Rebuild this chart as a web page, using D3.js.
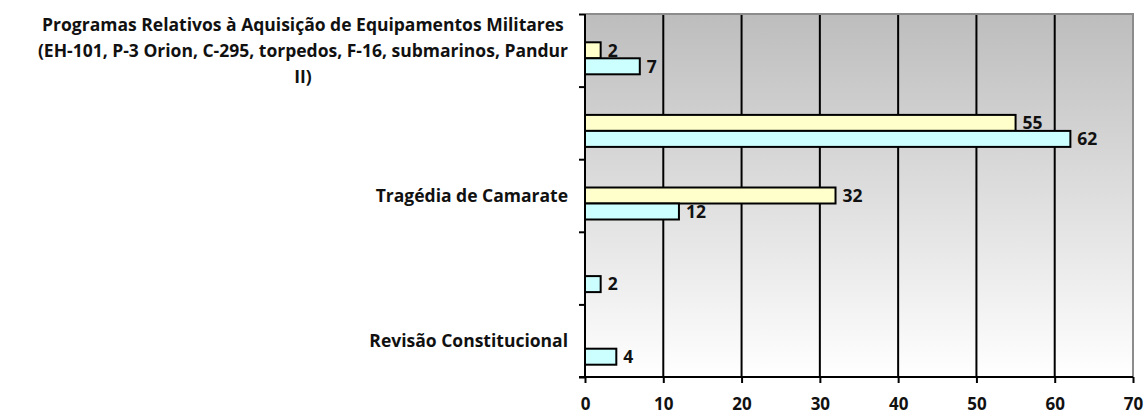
<!DOCTYPE html>
<html>
<head>
<meta charset="utf-8">
<script src="https://cdn.jsdelivr.net/npm/d3@7"></script>
<style>
  body { margin: 0; background: #fff; }
  svg text { font-family: "Open Sans", sans-serif; font-weight: bold; fill: #111; }
</style>
</head>
<body>
<div id="d3-container"></div>
<script>
/**
 * DATA
 * */
const categories = [
  "Programas Relativos à Aquisição de Equipamentos Militares\n(EH-101, P-3 Orion, C-295, torpedos, F-16, submarinos, Pandur\nII)",
  "",
  "Tragédia de Camarate",
  "",
  "Revisão Constitucional"
];
const seriesYellow = [2, 55, 32, null, null];
const seriesCyan = [7, 62, 12, 2, 4];
const xTicks = [0, 10, 20, 30, 40, 50, 60, 70];

/**
 * CONSTANTS
 * */
const width = 1147,
  height = 416,
  margin = { top: 14, bottom: 39, left: 585, right: 14 },
  fontSize = 17.5,
  tickFontSize = 17,
  barH = 16,
  barShift = 8; // bars sit a little below the band centre in the original

const svg = d3.select("#d3-container")
  .append("svg")
  .attr("width", width)
  .attr("height", height);

// background gradient of the plot area
const grad = svg.append("defs").append("linearGradient")
  .attr("id", "plotbg")
  .attr("x1", 0).attr("y1", 0).attr("x2", 0).attr("y2", 1);
grad.append("stop").attr("offset", "0%").attr("stop-color", "#bdbdbd");
grad.append("stop").attr("offset", "100%").attr("stop-color", "#ffffff");

const x = d3.scaleLinear()
  .domain([0, 70])
  .range([margin.left, width - margin.right]);

const y = d3.scaleBand()
  .domain(d3.range(categories.length))
  .range([margin.top, height - margin.bottom]);

// for the tick marks between categories
const yEdge = d3.scaleLinear()
  .domain([0, categories.length])
  .range([margin.top, height - margin.bottom]);

const sub = d3.scaleBand()
  .domain(["yellow", "cyan"])
  .range([0, barH * 2]);

// plot area
svg.append("rect")
  .attr("x", x(0)).attr("y", margin.top)
  .attr("width", x(70) - x(0))
  .attr("height", height - margin.bottom - margin.top)
  .attr("fill", "url(#plotbg)");

// grid lines
svg.selectAll("line.grid")
  .data(xTicks.filter(d => d > 0 && d < 70))
  .join("line")
  .attr("class", "grid")
  .attr("x1", d => x(d)).attr("x2", d => x(d))
  .attr("y1", margin.top).attr("y2", height - margin.bottom)
  .attr("stroke", "#000")
  .attr("stroke-width", 2);

// top + right border in grey
svg.append("path")
  .attr("d", `M${x(0)},${margin.top}H${x(70)}V${height - margin.bottom}`)
  .attr("fill", "none")
  .attr("stroke", "#8c8c8c")
  .attr("stroke-width", 2);

// bars
const rows = categories.map((c, i) => ({ i, yellow: seriesYellow[i], cyan: seriesCyan[i] }));
const colors = { yellow: "#ffffcc", cyan: "#ccffff" };
const bars = [];
rows.forEach(r => {
  ["yellow", "cyan"].forEach(k => {
    if (r[k] != null) bars.push({ i: r.i, key: k, value: r[k] });
  });
});

const barY = d => y(d.i) + y.bandwidth() / 2 - barH + barShift + sub(d.key);

svg.selectAll("rect.bar")
  .data(bars)
  .join("rect")
  .attr("class", "bar")
  .attr("x", x(0))
  .attr("y", d => barY(d))
  .attr("width", d => x(d.value) - x(0))
  .attr("height", sub.bandwidth())
  .attr("fill", d => colors[d.key])
  .attr("stroke", "#000")
  .attr("stroke-width", 2);

svg.selectAll("text.val")
  .data(bars)
  .join("text")
  .attr("class", "val")
  .attr("x", d => x(d.value) + 7)
  .attr("y", d => barY(d) + sub.bandwidth() / 2)
  .attr("dy", "0.36em")
  .attr("font-size", fontSize)
  .text(d => d.value);

// x axis
const xAxis = svg.append("g")
  .attr("transform", `translate(0,${height - margin.bottom})`)
  .call(d3.axisBottom(x).tickValues(xTicks).tickSize(6).tickPadding(15));
xAxis.select(".domain").attr("d", `M${x(0) - 6},0H${x(70)}`).attr("stroke", "#000").attr("stroke-width", 2);
xAxis.selectAll(".tick line").attr("stroke", "#000").attr("stroke-width", 2);
xAxis.selectAll("text").attr("font-size", tickFontSize).attr("font-family", null).attr("fill", "#111");

// y axis (ticks between categories, no labels)
const yAxis = svg.append("g")
  .attr("transform", `translate(${x(0)},0)`)
  .call(d3.axisLeft(yEdge).ticks(categories.length).tickSize(6).tickFormat(""));
yAxis.select(".domain").attr("d", `M0,${margin.top}V${height - margin.bottom}`).attr("stroke", "#000").attr("stroke-width", 2);
yAxis.selectAll(".tick line").attr("stroke", "#000").attr("stroke-width", 2);

// category labels
const labelRight = x(0) - 17;
const lineH = 26;
const labels = svg.selectAll("text.cat")
  .data(categories.map((c, i) => ({ i, lines: c.split("\n") })).filter(d => d.lines[0] !== ""))
  .join("text")
  .attr("class", "cat")
  .attr("font-size", fontSize);

labels.each(function (d) {
  const t = d3.select(this);
  const cy = y(d.i) + y.bandwidth() / 2;
  const n = d.lines.length;
  const spans = t.selectAll("tspan")
    .data(d.lines)
    .join("tspan")
    .attr("y", (l, j) => cy + (j - (n - 1) / 2) * lineH)
    .attr("dy", "0.36em")
    .text(l => l);
  if (n === 1) {
    t.attr("text-anchor", "end");
    spans.attr("x", labelRight);
  } else {
    let maxW = 0;
    spans.each(function () { maxW = Math.max(maxW, this.getComputedTextLength()); });
    t.attr("text-anchor", "middle");
    spans.attr("x", labelRight - maxW / 2);
  }
});
</script>
</body>
</html>
